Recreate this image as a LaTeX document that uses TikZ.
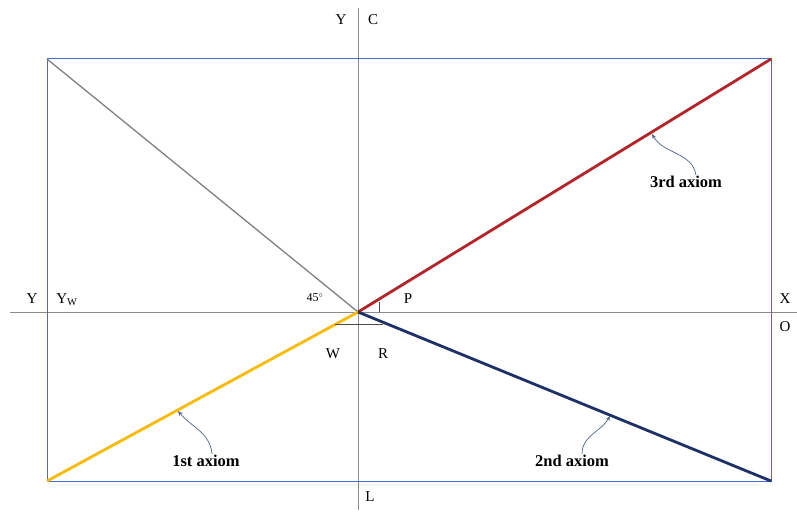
\documentclass[tikz,border=0pt]{standalone}
\usepackage{fontspec}
\setmainfont{Liberation Serif}
\usetikzlibrary{arrows.meta,calc}

\definecolor{frameblue}{RGB}{70,110,200}
\definecolor{axisred}{RGB}{180,36,40}
\definecolor{axisnavy}{RGB}{30,48,104}
\definecolor{axisgold}{RGB}{250,186,10}
\definecolor{pointergray}{RGB}{80,100,140}

\begin{document}
\begin{tikzpicture}[
    x=1pt,y=-1pt,
    frame/.style={draw=frameblue,line width=1pt},
    guide/.style={draw=gray!90,line width=0.6pt},
    axis/.style={line width=2.8pt},
    lbl/.style={font=\fontsize{15}{17}\selectfont,inner sep=1pt},
    axlbl/.style={font=\fontsize{16.5}{18}\selectfont\bfseries,inner sep=1pt},
    pointer/.style={draw=pointergray,line width=0.7pt,-{Stealth[length=5pt,width=4pt]}}
]
    \useasboundingbox (0,0) rectangle (797,513);

    % corners and centre
    \coordinate (tl) at (47,59);
    \coordinate (tr) at (771,59);
    \coordinate (bl) at (47,481);
    \coordinate (br) at (771,481);
    \coordinate (o) at (358,312);

    % axes through the centre
    \coordinate (hleft) at (10,312);
    \coordinate (hright) at (797,312);
    \coordinate (vtop) at (358,8);
    \coordinate (vbot) at (358,510);
    \draw[guide] (hleft) -- (hright);
    \draw[guide] (vtop) -- (vbot);

    % frame
    \draw[frame] (tl) -- (tr) -- (br) -- (bl) -- cycle;

    % diagonals
    \draw[gray,line width=1.3pt] (tl) -- (o);
    \draw[axis,axisred] (o) -- (tr);
    \draw[axis,axisgold] (bl) -- (o);
    \draw[axis,axisnavy] (o) -- (br);

    % small marks at the centre
    \coordinate (wl) at (335,324);
    \coordinate (wr) at (383,324);
    \coordinate (pt) at (379,302);
    \coordinate (pb) at (379,312);
    \draw[black!70,line width=0.8pt] (wl) -- (wr);
    \draw[black!70,line width=0.8pt] (pt) -- (pb);

    % labels
    \node[lbl] (ytop) at (341,20) {Y};
    \node[lbl] (c) at (373,20) {C};
    \node[lbl] (yleft) at (32,299) {Y};
    \node[lbl] (yw) at (67,300) {Y$_{\mathrm{W}}$};
    \node[lbl] (x) at (785,299) {X};
    \node[lbl] (olbl) at (785,327) {O};
    \node[lbl,font=\fontsize{12}{14}\selectfont] (deg) at (315,298) {45$^{\circ}$};
    \node[lbl] (p) at (408,299) {P};
    \node[lbl] (w) at (333,354) {W};
    \node[lbl] (r) at (383,354) {R};
    \node[lbl] (l) at (370,497) {L};

    \node[axlbl] (ax3) at (686,182) {3rd axiom};
    \node[axlbl] (ax1) at (206,461) {1st axiom};
    \node[axlbl] (ax2) at (572,461) {2nd axiom};

    % pointers to the axiom lines
    \coordinate (tip3) at (652,134);
    \coordinate (tip1) at (178,411);
    \coordinate (tip2) at (610,416);
    \draw[pointer] ([xshift=10pt]ax3.north) to[out=100,in=-60] (tip3);
    \draw[pointer] ([xshift=6pt]ax1.north) to[out=95,in=-50] (tip1);
    \draw[pointer] ([xshift=10pt]ax2.north) to[out=90,in=-120] (tip2);
\end{tikzpicture}
\end{document}
